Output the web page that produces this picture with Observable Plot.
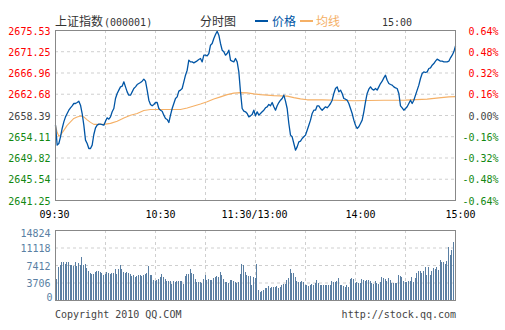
<!DOCTYPE html>
<html><head><meta charset="utf-8">
<script src="https://cdn.jsdelivr.net/npm/d3@7"></script>
<script src="https://cdn.jsdelivr.net/npm/@observablehq/plot@0.6"></script>
<style>
html,body{margin:0;padding:0;background:#fff;}
#wrap{position:relative;width:505px;height:330px;overflow:hidden;}
.t{position:absolute;white-space:nowrap;line-height:1;}
.cjk{font-family:"Noto Sans CJK SC";font-size:12px;line-height:12px;}
.mono{font-family:"DejaVu Sans Mono";font-size:10px;line-height:10px;}
#price,#vol{position:absolute;left:0;}
#price{top:0;} #vol{top:220px;}
.sw{position:absolute;height:2px;width:13px;}
</style></head><body>
<div id="wrap">
  <div id="price"></div>
  <div id="vol"></div>
  <div class="t cjk" style="left:55px;top:14.6px;color:#333">上证指数</div>
  <div class="t mono" style="left:104px;top:17.5px;color:#333">(000001)</div>
  <div class="t cjk" style="left:200px;top:14.6px;color:#333">分时图</div>
  <div class="sw" style="left:255px;top:20px;background:#0055a5"></div>
  <div class="t cjk" style="left:272px;top:14.6px;color:#0055a5">价格</div>
  <div class="sw" style="left:300px;top:20px;background:#f5b066"></div>
  <div class="t cjk" style="left:316px;top:14.6px;color:#f5b066">均线</div>
  <div class="t mono" style="left:382px;top:17.5px;color:#333">15:00</div>
  <div class="t mono" style="left:55px;top:309.5px;color:#444">Copyright 2010 QQ.COM</div>
  <div class="t mono" style="right:49px;top:309.5px;color:#444">http://stock.qq.com</div>
</div>
<script>
// price per minute, index 0 = 09:30 ... 240 = 15:00
const price = [
2656.44,2652.41,2652.74,2654.09,2655.77,2657.11,2658.12,2658.79,2659.46,2659.94,
2660.34,2660.81,2660.81,2661.01,2661.28,2660.47,2658.79,2656.44,2653.42,2652.74,
2651.74,2651.74,2652.41,2654.56,2655.90,2656.44,2656.64,2656.64,2656.57,2656.44,
2657.25,2657.92,2657.65,2658.12,2659.13,2659.80,2661.82,2662.83,2663.50,2664.17,
2664.30,2665.18,2664.17,2663.16,2662.49,2662.49,2663.16,2663.83,2664.17,2664.64,
2664.84,2665.04,2665.31,2665.72,2665.31,2663.50,2661.48,2660.61,2660.34,2660.61,
2661.01,2661.01,2659.80,2659.46,2659.26,2658.46,2657.79,2657.58,2656.98,2658.46,
2659.80,2660.81,2661.82,2662.15,2663.30,2663.50,2663.83,2665.18,2666.52,2667.53,
2669.55,2669.21,2669.21,2669.01,2669.21,2669.41,2669.68,2669.88,2669.21,2670.55,
2670.55,2670.42,2670.89,2672.57,2672.91,2673.91,2674.72,2675.39,2674.59,2672.91,
2671.56,2671.23,2670.55,2670.89,2671.56,2669.55,2669.34,2669.21,2669.88,2669.21,
2667.19,2663.16,2659.80,2659.26,2659.13,2658.79,2658.12,2658.32,2658.59,2659.46,
2658.32,2659.13,2658.46,2658.79,2659.13,2659.46,2659.94,2660.14,2660.61,2660.34,
2661.01,2660.14,2659.46,2660.34,2661.01,2661.48,2661.82,2662.49,2661.28,2659.80,
2656.78,2654.43,2654.09,2652.74,2651.40,2652.07,2653.08,2653.22,2653.75,2654.09,
2654.43,2655.43,2656.44,2657.45,2658.79,2659.46,2659.46,2660.34,2660.34,2659.80,
2659.46,
2659.80,2660.14,2659.94,2660.34,2660.81,2661.48,2662.83,2663.83,2664.17,2663.16,
2663.50,2662.83,2661.82,2661.68,2661.48,2660.81,2659.80,2658.79,2657.45,2656.44,
2655.77,2656.11,2656.78,2657.45,2659.13,2661.15,2662.83,2663.70,2664.17,2663.70,
2663.50,2663.83,2663.50,2664.17,2664.84,2665.31,2665.98,2666.52,2665.51,2664.84,
2664.64,2664.51,2664.17,2663.97,2663.83,2662.83,2660.34,2659.94,2659.46,2659.80,
2660.14,2660.81,2661.48,2660.81,2661.48,2662.49,2663.50,2664.51,2665.85,2666.86,
2667.19,2667.06,2667.19,2667.87,2668.00,2668.54,2668.87,2669.34,2669.75,2669.55,
2669.34,2669.34,2669.21,2669.21,2669.21,2669.34,2670.02,2670.55,2671.23,2672.40
];
// average line (均线), sampled minutes
const avgMinute = [0,1,2,3,5,7,9,11,13,15,17,19,21,23,25,29,33,37,41,45,49,53,57,65,75,79,83,87,91,95,99,103,107,111,115,119,123,127,131,135,139,143,147,151,155,160,179,197,210,223,230,236,240];
const avgPrice = [2656.4,2655.0,2654.2,2654.4,2655.4,2656.4,2657.1,2657.8,2658.1,2658.3,2658.1,2657.5,2657.0,2656.6,2656.6,2656.6,2656.8,2657.25,2657.9,2658.45,2658.8,2659.4,2659.6,2659.6,2659.6,2659.9,2660.3,2660.7,2661.15,2661.7,2662.15,2662.6,2662.9,2663.0,2662.95,2662.75,2662.6,2662.5,2662.4,2662.35,2662.3,2662.0,2661.75,2661.55,2661.55,2661.55,2661.35,2661.45,2661.5,2661.7,2661.95,2662.15,2662.2];
// volume per minute, minutes 1..239
const volume = [
4518,6918,7341,8047,8047,7624,8047,8047,7341,7341,
7130,8047,7130,7835,7482,9106,7482,7624,6777,6212,
5718,5506,5506,5930,6212,6212,5930,5718,5365,5506,
5930,5718,5506,5718,5718,6565,5506,6565,7341,6565,
5930,5718,5930,5718,5506,5012,5224,4800,5012,5224,
5365,5012,5224,5577,5718,7130,5224,5224,4306,4094,
4306,4518,4800,5506,4800,4518,4094,4094,3953,3388,
3953,3812,4094,3953,4094,3953,3388,5012,5506,5506,
6635,5718,5506,4518,3812,3812,3812,3600,4518,5365,
4306,4518,4306,4306,4659,4800,5012,4800,5930,5365,
4518,3812,3812,3600,4306,4306,3953,3812,3600,3812,
5506,7624,7483,5930,5365,5012,5012,3247,4871,4659,
7624,2188,1694,1977,2188,2541,2541,2894,2541,2682,
2682,2682,2894,2541,2682,3106,3388,3388,4306,4659,
6635,5718,5718,4800,4094,3812,3812,3953,3812,3106,
3106,2894,3106,3388,3106,3600,4306,3600,3106,3106,
3247,3106,3106,3247,3106,4094,3812,3812,3953,4659,
3247,3247,2894,2682,3106,2682,4518,4659,4518,3600,
3812,3600,3600,4518,4306,4094,4306,4306,4094,3600,
3388,3953,3600,3388,3812,4800,4659,4518,4094,4659,
4306,3600,3600,3600,3600,5365,5012,4800,3953,3812,
3812,4094,4094,4800,3812,4659,5718,6071,6212,5718,
6071,6918,5224,6918,5365,6071,6777,6635,6918,6424,
8541,8047,8047,7624,8188,11153,9459,10659,12283
];
const priceTicks = [2641.25,2645.54,2649.82,2654.11,2658.39,2662.68,2666.96,2671.25,2675.53];
const pctLabels = ["-0.64%","-0.48%","-0.32%","-0.16%","0.00%","0.16%","0.32%","0.48%","0.64%"];
const timeMinutes = [0,60,120,180,240];
const timeLabels = ["09:30","10:30","11:30/13:00","14:00","15:00"];
const volTicks = [0,3706,7412,11118,14824];
const gridMinutes = [30,60,90,120,150,180,210];

const RED = "#ff0000", GREEN = "#118811", GRAY = "#444";
const tickColor = (d,i) => i < 4 ? GREEN : i === 4 ? GRAY : RED;
const gridStyle = {stroke:"#cfcfcf", strokeDasharray:"3,3"};
const mono = "DejaVu Sans Mono";

const pricePlot = Plot.plot({
  width: 505, height: 225,
  marginLeft: 55, marginRight: 50, marginTop: 30, marginBottom: 25,
  x: {domain: [0, 240], axis: null},
  y: {domain: [priceTicks[0], priceTicks[8]], axis: null},
  color: {type: "identity"},
  style: {fontFamily: mono, fontSize: "10px", background: "transparent", overflow: "visible"},
  marks: [
    Plot.ruleY(priceTicks.slice(1, -1), gridStyle),
    Plot.ruleX(gridMinutes, gridStyle),
    Plot.line(avgMinute.map((m,i)=>({m, v: avgPrice[i]})), {x:"m", y:"v", stroke:"#f5b066", strokeWidth:1.1}),
    Plot.line(price, {x:(d,i)=>i, y:d=>d, stroke:"#0055a5", strokeWidth:1.3}),
    Plot.frame({stroke:"#888"}),
    Plot.text(priceTicks, {y:d=>d, text:d=>d.toFixed(2), frameAnchor:"left", textAnchor:"end", dx:-5, dy:1, fill:tickColor, fontFamily: mono, fontSize:10}),
    Plot.text(priceTicks, {y:d=>d, text:(d,i)=>pctLabels[i], frameAnchor:"right", textAnchor:"end", dx:43, dy:1, fill:tickColor, fontFamily: mono, fontSize:10}),
    Plot.text(timeLabels, {x:(d,i)=>timeMinutes[i], text:d=>d, filter:(d,i)=>i===0 || i===2, frameAnchor:"bottom", dy:17, dx:-1, fill:"#000", fontFamily: mono, fontSize:10}),
    Plot.text(timeLabels, {x:(d,i)=>timeMinutes[i], text:d=>d, filter:(d,i)=>i===1 || i===3 || i===4, frameAnchor:"bottom", dy:17, dx:5, fill:"#000", fontFamily: mono, fontSize:10})
  ]
});
document.getElementById("price").append(pricePlot);

const volPlot = Plot.plot({
  width: 505, height: 85,
  marginLeft: 55, marginRight: 50, marginTop: 10, marginBottom: 5,
  x: {domain: [0, 240], axis: null},
  y: {domain: [0, 14824], axis: null},
  style: {fontFamily: mono, fontSize: "10px", background: "transparent", overflow: "visible"},
  marks: [
    Plot.ruleY(volTicks.slice(1, -1), gridStyle),
    Plot.ruleX(gridMinutes, gridStyle),
    Plot.rectY(volume, {x1:(d,i)=>i+0.7, x2:(d,i)=>i+1.3, y:d=>d, fill:"#5a7fa3", shapeRendering:"crispEdges"}),
    Plot.frame({stroke:"#888"}),
    Plot.text(volTicks, {y:d=>d, text:d=>String(d), filter:(d,i)=>i>0 && i<4, frameAnchor:"left", textAnchor:"end", dx:-5, dy:1, fill:"#5a7fa3", fontFamily: mono, fontSize:10}),
    Plot.text(volTicks, {y:d=>d, text:d=>String(d), filter:(d,i)=>i===4, frameAnchor:"left", textAnchor:"end", dx:-5, dy:3, fill:"#5a7fa3", fontFamily: mono, fontSize:10}),
    Plot.text(volTicks, {y:d=>d, text:d=>String(d), filter:(d,i)=>i===0, frameAnchor:"left", textAnchor:"end", dx:-3, dy:-3, fill:"#5a7fa3", fontFamily: mono, fontSize:10})
  ]
});
document.getElementById("vol").append(volPlot);
</script>
</body></html>
